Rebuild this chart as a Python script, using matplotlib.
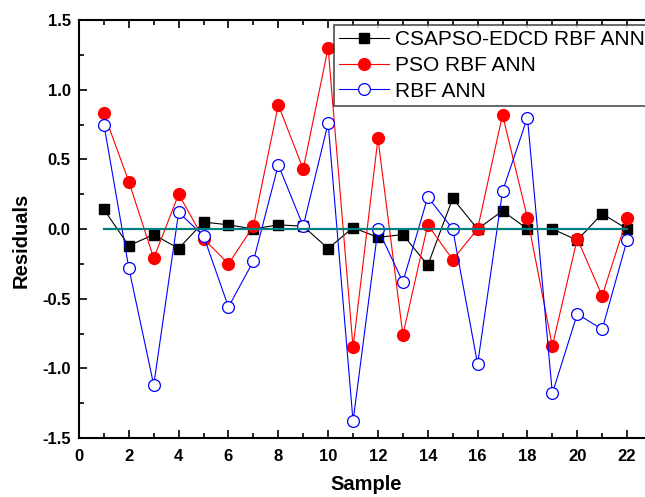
import matplotlib
matplotlib.use("Agg")
import matplotlib.pyplot as plt
from matplotlib.ticker import MultipleLocator

plt.rcParams['font.family'] = ['Liberation Sans', 'DejaVu Sans']
plt.rcParams['axes.unicode_minus'] = False

# data
samples = list(range(1, 23))
csapso = [0.14, -0.12, -0.04, -0.14, 0.05, 0.03, 0.00, 0.03, 0.02, -0.14, 0.01,
          -0.06, -0.04, -0.26, 0.22, 0.00, 0.13, 0.00, 0.00, -0.08, 0.11, 0.00]
pso = [0.83, 0.34, -0.21, 0.25, -0.07, -0.25, 0.02, 0.89, 0.43, 1.30, -0.85,
       0.65, -0.76, 0.03, -0.22, 0.00, 0.82, 0.08, -0.84, -0.07, -0.48, 0.08]
rbf = [0.75, -0.28, -1.12, 0.12, -0.05, -0.56, -0.23, 0.46, 0.02, 0.76, -1.38,
       0.00, -0.38, 0.23, 0.00, -0.97, 0.27, 0.80, -1.18, -0.61, -0.72, -0.08]
zero_x = [1, 22]
zero_y = [0, 0]

fig = plt.figure(figsize=(6.45, 4.97), dpi=100)
ax = fig.add_axes([79/645, 1 - 438/497, (652 - 79)/645, (438 - 20)/497])

ax.plot(samples, csapso, color='black', lw=0.8, marker='s', ms=6.5,
        mfc='black', mec='black', label='CSAPSO-EDCD RBF ANN', zorder=3)
ax.plot(samples, pso, color='red', lw=0.8, marker='o', ms=8.5,
        mfc='red', mec='red', label='PSO RBF ANN', zorder=3)
ax.plot(samples, rbf, color='blue', lw=0.8, marker='o', ms=8.5,
        mfc='white', mec='blue', mew=0.9, label='RBF ANN', zorder=3)
ax.plot(zero_x, zero_y, color='#008080', lw=1.6, zorder=4)

ax.set_xlim(0, 23)
ax.set_ylim(-1.5, 1.5)
ax.xaxis.set_major_locator(MultipleLocator(2))
ax.xaxis.set_minor_locator(MultipleLocator(1))
ax.yaxis.set_major_locator(MultipleLocator(0.5))
ax.yaxis.set_minor_locator(MultipleLocator(0.25))
ax.tick_params(which='both', direction='in', top=True, right=False, width=1.2)
ax.tick_params(which='major', length=6)
ax.tick_params(which='minor', length=3.5)
ax.tick_params(axis='both', labelsize=12)
ax.tick_params(axis='x', pad=8)
ax.tick_params(axis='y', pad=6)
for lab in ax.get_xticklabels() + ax.get_yticklabels():
    lab.set_fontweight('bold')
for sp in ax.spines.values():
    sp.set_linewidth(1.5)

ax.set_xlabel('Sample', fontsize=14.5, fontweight='bold')
ax.set_ylabel('Residuals', fontsize=14.5, fontweight='bold')
ax.xaxis.set_label_coords((366 - 79)/573, -(490 - 438)/418)
ax.xaxis.label.set_va('baseline')
ax.yaxis.set_label_coords(-(79 - 21)/573, (438 - 240)/418)
ax.yaxis.label.set_va('center')

leg = ax.legend(loc='upper left', bbox_to_anchor=((334 - 79)/573, 1 - 5/418),
                fontsize=15, frameon=True, fancybox=False, shadow=False,
                handlelength=2.4, handletextpad=0.3, labelspacing=0.32,
                borderpad=0.25, borderaxespad=0)
leg.get_frame().set_edgecolor('#222222')
leg.get_frame().set_linewidth(1.2)

fig.savefig('out.png', dpi=100)
